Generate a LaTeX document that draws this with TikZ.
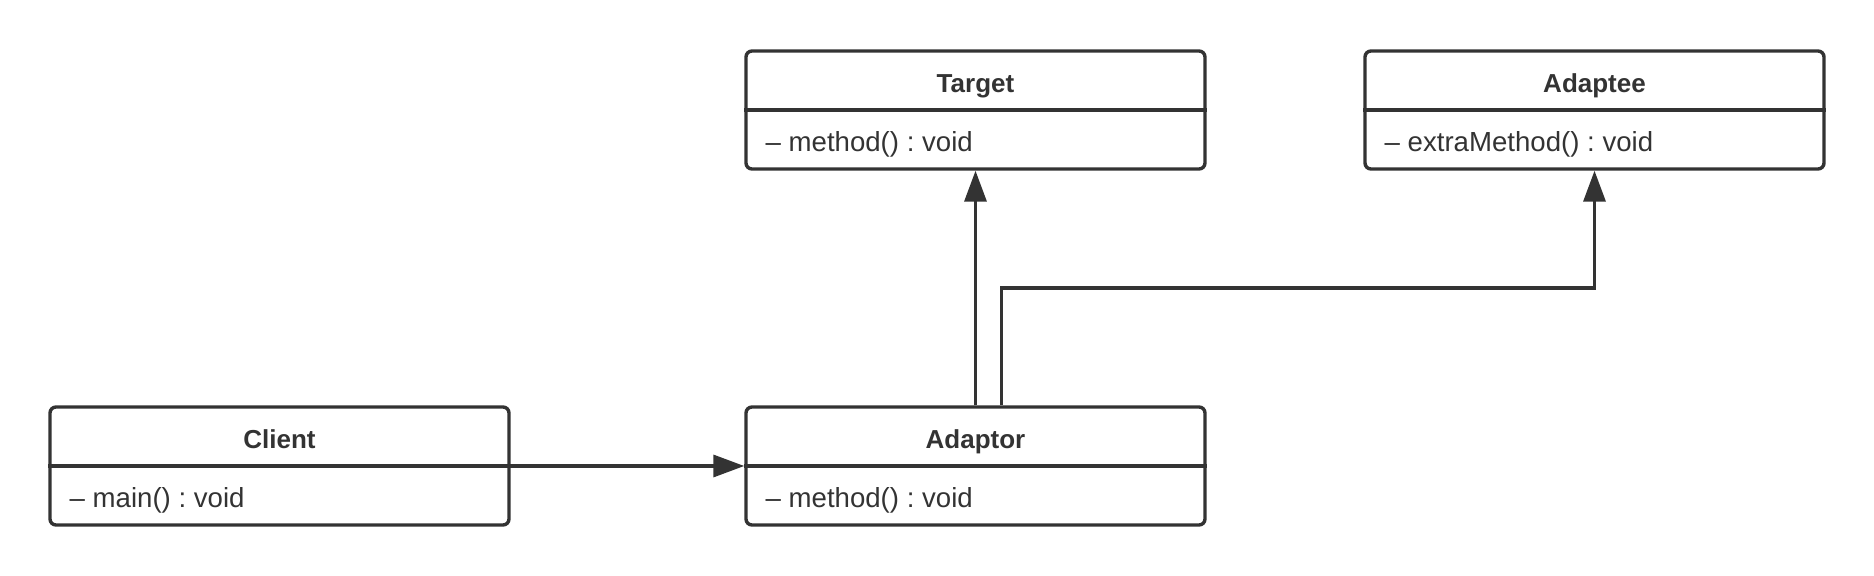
\documentclass[tikz,border=0pt]{standalone}
\usepackage{fontspec}
\setmainfont{Liberation Sans}
\usetikzlibrary{shapes,arrows.meta}
\definecolor{umlgray}{HTML}{333333}
\frenchspacing
\tikzset{
  classbox/.style={draw=umlgray, line width=1.7pt, rounded corners=3pt, minimum width=229.5pt, minimum height=59pt, inner sep=0pt},
  classname/.style={text=umlgray, font=\fontsize{13}{16}\selectfont\bfseries, anchor=base, inner sep=0pt},
  classmember/.style={text=umlgray, font=\fontsize{13.8}{16}\selectfont, anchor=base west, inner sep=0pt},
  uses/.style={draw=umlgray, line width=1.7pt, -{Triangle[length=15.5pt,width=11pt]}}
}
\begin{document}
\begin{tikzpicture}[x=0.5pt,y=-0.5pt]
			\useasboundingbox (0,0) rectangle (1874,576);
			\node[classbox] (client) at (279.5,466) {};
			\node[classbox] (adaptor) at (975.5,466) {};
			\node[classbox] (target) at (975.5,110) {};
			\node[classbox] (adaptee) at (1594.5,110) {};
			\foreach \c in {client,adaptor,target,adaptee}
				\draw[umlgray, line width=1.7pt] (\c.west) -- (\c.east);
			\node[classname] (client name) at ([yshift=8.5pt]client.center) {Client};
			\node[classname] (adaptor name) at ([yshift=8.5pt]adaptor.center) {Adaptor};
			\node[classname] (target name) at ([yshift=8.5pt]target.center) {Target};
			\node[classname] (adaptee name) at ([yshift=8.5pt]adaptee.center) {Adaptee};
			\node[classmember] (client main) at ([xshift=10.5pt,yshift=-21pt]client.west) {– main() : void};
			\node[classmember] (adaptor method) at ([xshift=10.5pt,yshift=-21pt]adaptor.west) {– method() : void};
			\node[classmember] (target method) at ([xshift=10.5pt,yshift=-21pt]target.west) {– method() : void};
			\node[classmember] (adaptee extra) at ([xshift=10.5pt,yshift=-21pt]adaptee.west) {– extraMethod() : void};
			\coordinate (bend) at (1001.5,288);
			\draw[uses] (client.east) -- (adaptor.west);
			\draw[uses] (adaptor.north) -- (target.south);
			\draw[uses] (adaptor.north -| bend) -- (bend) -| (adaptee.south);
\end{tikzpicture}
\end{document}
